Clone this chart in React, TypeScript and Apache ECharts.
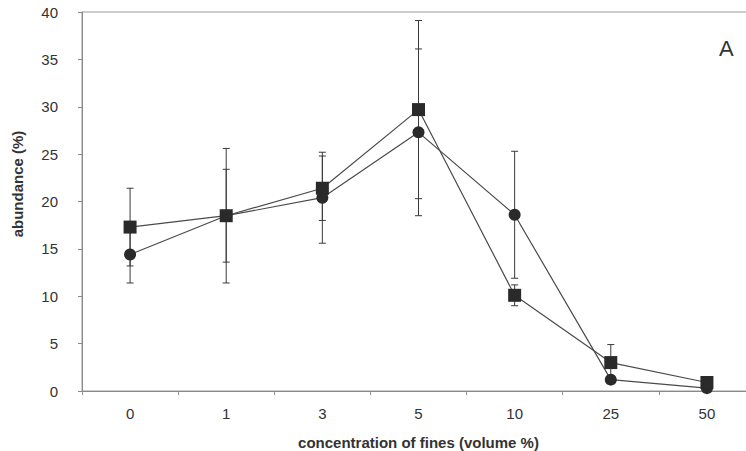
import React, { useEffect, useRef } from "react";
import * as echarts from "echarts";

const categories = ["0", "1", "3", "5", "10", "25", "50"];
const squareValues = [17.3, 18.5, 21.4, 29.7, 10.1, 3.0, 0.9];
const squareErrors = [4.1, 4.9, 3.4, 9.4, 1.1, 1.9, 0.5];
const circleValues = [14.4, 18.5, 20.4, 27.3, 18.6, 1.2, 0.3];
const circleErrors = [3.0, 7.1, 4.8, 8.8, 6.7, 0.3, 0.2];
const yTicks = [0, 5, 10, 15, 20, 25, 30, 35, 40];

const FONT = "Liberation Sans, Arial, sans-serif";

function errorData(values: number[], errs: number[]) {
  return values.map((v, i) => [i, v - errs[i], v + errs[i]]);
}

const renderErr = (params: any, api: any) => {
  const x = api.value(0);
  const lo = api.coord([x, api.value(1)]);
  const hi = api.coord([x, api.value(2)]);
  const w = 3.5;
  const style = { stroke: "#3a3a3a", lineWidth: 1 };
  return {
    type: "group",
    children: [
      { type: "line", shape: { x1: lo[0], y1: lo[1], x2: hi[0], y2: hi[1] }, style },
      { type: "line", shape: { x1: lo[0] - w, y1: lo[1], x2: lo[0] + w, y2: lo[1] }, style },
      { type: "line", shape: { x1: hi[0] - w, y1: hi[1], x2: hi[0] + w, y2: hi[1] }, style },
    ],
  };
};

export default function App() {
  const ref = useRef<HTMLDivElement>(null);
  useEffect(() => {
    if (!ref.current) return;
    const chart = echarts.init(ref.current, undefined, { renderer: "svg" });
    chart.setOption({
      animation: false,
      backgroundColor: "#ffffff",
      grid: {
        left: 82,
        width: 673,
        top: 12,
        height: 379,
        containLabel: false,
        outerBoundsMode: "none",
        show: true,
        borderColor: "#9a9a9a",
        borderWidth: 1,
        backgroundColor: "transparent",
      },
      xAxis: {
        type: "category",
        data: categories,
        boundaryGap: true,
        name: "concentration of fines (volume %)",
        nameLocation: "middle",
        nameGap: 44,
        nameTextStyle: { fontFamily: FONT, fontSize: 15, fontWeight: "bold", color: "#333" },
        axisLine: { lineStyle: { color: "#8a8a8a", width: 1 } },
        axisTick: { show: true, length: 4, lineStyle: { color: "#8a8a8a" } },
        axisLabel: { fontFamily: FONT, fontSize: 15, color: "#333", margin: 15 },
        splitLine: { show: false },
      },
      yAxis: {
        type: "value",
        min: 0,
        max: 40,
        interval: 5,
        axisLine: { show: true, lineStyle: { color: "#8a8a8a", width: 1 } },
        axisTick: { show: true, length: 4, lineStyle: { color: "#8a8a8a" } },
        axisLabel: {
          fontFamily: FONT,
          fontSize: 15,
          color: "#333",
          margin: 24,
          formatter: (v: number) => (yTicks.includes(v) ? String(v) : ""),
        },
        splitLine: { show: false },
      },
      graphic: [
        {
          type: "text",
          left: 719,
          top: 37,
          style: { text: "A", font: `22px ${FONT}`, fill: "#333" },
        },
        {
          type: "text",
          x: 17,
          y: 184,
          rotation: Math.PI / 2,
          style: {
            text: "abundance (%)",
            font: `bold 15px ${FONT}`,
            fill: "#333",
            align: "center",
            verticalAlign: "middle",
          },
        },
      ],
      series: [
        {
          type: "custom",
          name: "squareErr",
          data: errorData(squareValues, squareErrors),
          encode: { x: 0, y: [1, 2] },
          renderItem: renderErr,
          z: 1,
        },
        {
          type: "custom",
          name: "circleErr",
          data: errorData(circleValues, circleErrors),
          encode: { x: 0, y: [1, 2] },
          renderItem: renderErr,
          z: 1,
        },
        {
          type: "line",
          name: "circle",
          data: circleValues,
          symbol: "circle",
          symbolSize: 12,
          itemStyle: { color: "#2a2a2a", borderWidth: 0 },
          lineStyle: { color: "#4a4a4a", width: 1.2 },
          z: 3,
        },
        {
          type: "line",
          name: "square",
          data: squareValues,
          symbol: "rect",
          symbolSize: 13,
          itemStyle: { color: "#2a2a2a", borderWidth: 0 },
          lineStyle: { color: "#4a4a4a", width: 1.2 },
          z: 4,
        },
      ],
    });
    return () => chart.dispose();
  }, []);
  return (
    <div
      ref={ref}
      style={{ position: "fixed", left: 0, top: 0, width: 746, height: 451 }}
    />
  );
}
